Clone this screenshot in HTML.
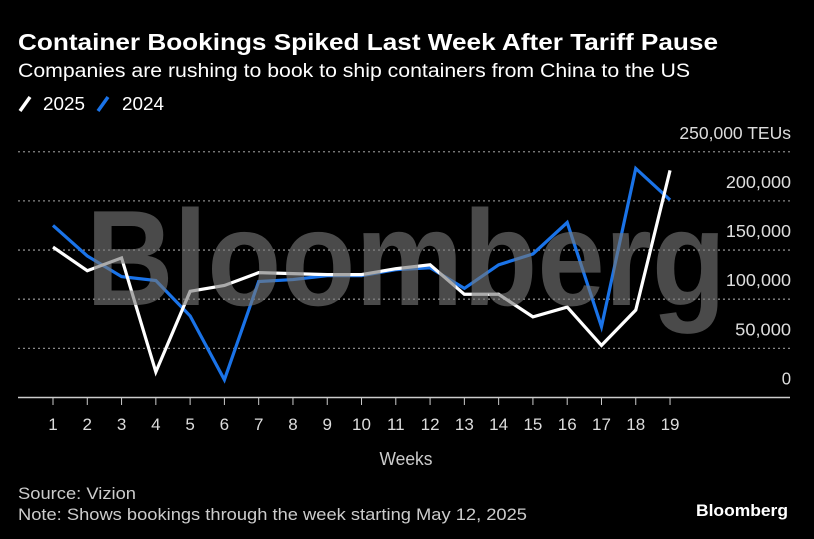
<!DOCTYPE html>
<html><head><meta charset="utf-8"><style>
body{margin:0;background:#000;width:814px;height:539px;overflow:hidden;font-family:"Liberation Sans",sans-serif;color:#fff}
</style></head><body>
<svg width="814" height="539" style="position:absolute;left:0;top:0">
<text x="18" y="50" font-size="23" font-weight="bold" fill="#fff" textLength="700" lengthAdjust="spacingAndGlyphs">Container Bookings Spiked Last Week After Tariff Pause</text>
<text x="18" y="77" font-size="19" fill="#fff" textLength="672" lengthAdjust="spacingAndGlyphs">Companies are rushing to book to ship containers from China to the US</text>
<g>
<line x1="20" y1="111" x2="30" y2="97" stroke="#fff" stroke-width="3.5"/>
<text x="43" y="110" font-size="18" fill="#fff" textLength="42" lengthAdjust="spacingAndGlyphs">2025</text>
<line x1="98" y1="111" x2="108" y2="97" stroke="#1a73e8" stroke-width="3.5"/>
<text x="122" y="110" font-size="18" fill="#fff" textLength="42" lengthAdjust="spacingAndGlyphs">2024</text>
</g>
<g id="grid"></g>
<g id="lines"></g>
<text x="406" y="305" font-size="136" font-weight="bold" fill="#777" fill-opacity="0.62" text-anchor="middle" textLength="640" lengthAdjust="spacingAndGlyphs">Bloomberg</text>
<g id="xaxis"></g>
<text x="406" y="465" font-size="18" fill="#ccc" text-anchor="middle" textLength="53" lengthAdjust="spacingAndGlyphs">Weeks</text>
<text x="18" y="499" font-size="17" fill="#ccc" textLength="118" lengthAdjust="spacingAndGlyphs">Source: Vizion</text>
<text x="18" y="520" font-size="17" fill="#ccc" textLength="509" lengthAdjust="spacingAndGlyphs">Note: Shows bookings through the week starting May 12, 2025</text>
<text x="696" y="516" font-size="17" font-weight="bold" fill="#fff" textLength="92" lengthAdjust="spacingAndGlyphs">Bloomberg</text>
</svg>
<script>
const weeks=[1,2,3,4,5,6,7,8,9,10,11,12,13,14,15,16,17,18,19];
const values2025=[153,129,142,26,108,114,127,126,125,125,131,135,105,105,82,92,53,89,231];
const values2024=[175,144,123,119,83,18,118,120,124,124,130,132,111,135,146,178,72,233,201];
const yTicks=[0,50,100,150,200,250];
const yTickLabels=["0","50,000","100,000","150,000","200,000","250,000 TEUs"];
const NS="http://www.w3.org/2000/svg";
function x(i){return 53+(i-1)*34.28;}
function y(v){return 397.5-v*0.983;}
function mk(t,a,p){const e=document.createElementNS(NS,t);for(const k in a)e.setAttribute(k,a[k]);p.appendChild(e);return e;}
const grid=document.getElementById('grid'),lines=document.getElementById('lines'),xa=document.getElementById('xaxis');
yTicks.forEach((t,i)=>{
 if(t>0){const g=mk('line',{x1:18,x2:790,y1:y(t),y2:y(t),stroke:'#888','stroke-width':1.3,'stroke-dasharray':'2,3'},grid);
 
 }
 const l=mk('text',{x:791,y:y(t)-13,'font-size':17.5,fill:'#ddd','text-anchor':'end',textLength:yTickLabels[i].length*9.3,lengthAdjust:'spacingAndGlyphs'},grid);
 l.textContent=yTickLabels[i];
 
 
});
const base=mk('line',{x1:18,x2:790,y1:397.5,y2:397.5,stroke:'#ccc','stroke-width':1.5},xa);


weeks.forEach(w=>{
 const t=mk('line',{x1:x(w),x2:x(w),y1:397.5,y2:405,stroke:'#ccc','stroke-width':1},xa);
 
 
 const l=mk('text',{x:x(w),y:430,'font-size':17,fill:'#ddd','text-anchor':'middle'},xa);
 l.textContent=w;
 
 
});
function series(vals,col,name){
 const p=mk('polyline',{points:vals.map((v,i)=>x(weeks[i])+','+y(v)).join(' '),fill:'none',stroke:col,'stroke-width':3.2,'stroke-linejoin':'miter'},lines);
 
 
}
series(values2024,'#1a73e8','line-2024');
series(values2025,'#ffffff','line-2025');
</script>
</body></html>
